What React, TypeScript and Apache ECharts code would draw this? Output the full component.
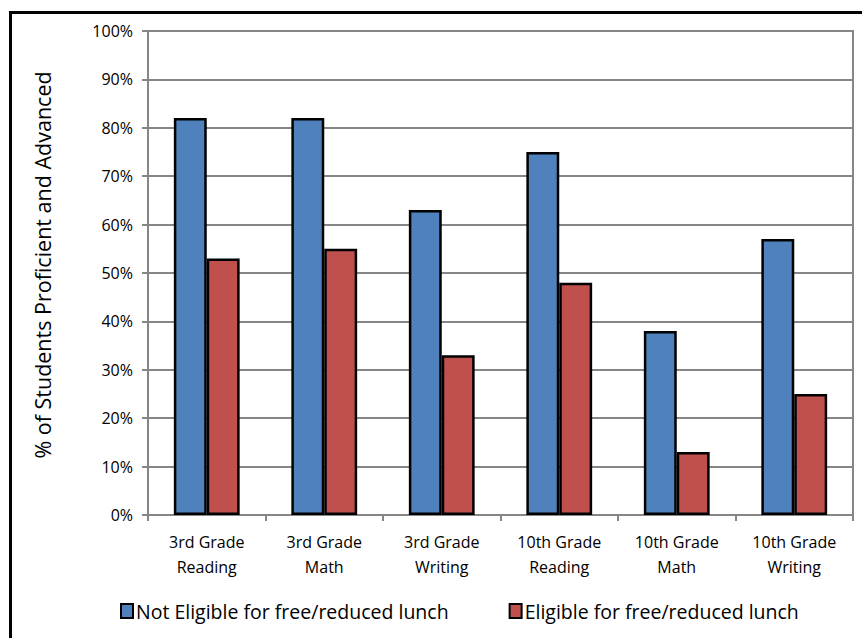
import React, { useEffect, useRef } from "react";
import * as echarts from "echarts";

const categories = [
  "3rd Grade\nReading",
  "3rd Grade\nMath",
  "3rd Grade\nWriting",
  "10th Grade\nReading",
  "10th Grade\nMath",
  "10th Grade\nWriting",
];
const notEligible = [82, 82, 63, 75, 38, 57];
const eligible = [53, 55, 33, 48, 13, 25];
const seriesNames = ["Not Eligible for free/reduced lunch", "Eligible for free/reduced lunch"];
const yTicks = [0, 10, 20, 30, 40, 50, 60, 70, 80, 90, 100];
const yAxisTitle = "% of Students Proficient and Advanced";
const titleText = "Subject Scores by Family Income, 2011";

const FONT = "'Open Sans', 'Noto Sans', sans-serif";
const GRAY = "#868686";

export default function App() {
  const ref = useRef<HTMLDivElement>(null);
  useEffect(() => {
    if (!ref.current) return;
    const chart = echarts.init(ref.current, null, { renderer: "svg" });
    chart.setOption({
      animation: false,
      backgroundColor: "#ffffff",
      textStyle: { fontFamily: FONT },
      graphic: [
        {
          type: "text",
          x: 5,
          y: -4,
          silent: true,
          style: {
            text: titleText,
            font: "bold 28.5px " + FONT,
            fill: "#000",
            verticalAlign: "bottom",
            lineHeight: 28,
          },
        },
        {
          type: "rect",
          shape: { x: 10.5, y: 12.5, width: 900, height: 700 },
          style: { fill: "#fff", stroke: "#000", lineWidth: 3 },
          silent: true,
          z: -10,
        },
      ],
      grid: {
        left: 148,
        top: 31,
        width: 705,
        height: 484,
        show: true,
        borderColor: GRAY,
        borderWidth: 2,
        backgroundColor: "transparent",
      },
      legend: {
        data: seriesNames,
        left: 115,
        top: 596,
        itemGap: 60,
        itemWidth: 12,
        itemHeight: 14,
        icon: "rect",
        textStyle: { fontSize: 19.5, fontFamily: FONT, color: "#000", padding: [0, 0, 0, -2] },
        itemStyle: { borderColor: "#000", borderWidth: 2 },
      },
      xAxis: {
        type: "category",
        data: categories,
        axisLine: { show: true, lineStyle: { color: GRAY, width: 2 } },
        axisTick: { show: true, alignWithLabel: false, length: 6, lineStyle: { color: GRAY, width: 2 } },
        axisLabel: {
          fontSize: 16,
          lineHeight: 25,
          color: "#000",
          margin: 14,
          fontFamily: FONT,
          interval: 0,
        },
      },
      yAxis: {
        type: "value",
        min: yTicks[0],
        max: yTicks[yTicks.length - 1],
        interval: 10,
        name: yAxisTitle,
        nameLocation: "middle",
        nameGap: 95,
        nameTextStyle: { fontSize: 21.5, color: "#000", fontFamily: FONT, padding: [0, 0, 0, 16] },
        axisLine: { show: true, lineStyle: { color: GRAY, width: 2 } },
        axisTick: { show: true, length: 6, lineStyle: { color: GRAY, width: 2 } },
        axisLabel: {
          formatter: (v: number) => v + "%",
          fontSize: 16,
          color: "#000",
          margin: 15,
          fontFamily: FONT,
        },
        splitLine: { show: true, lineStyle: { color: GRAY, width: 2 } },
      },
      series: [
        {
          name: seriesNames[0],
          type: "bar",
          data: notEligible,
          barGap: "0%",
          barCategoryGap: "44%",
          itemStyle: { color: "#4F81BD", borderColor: "#000", borderWidth: 2.5 },
        },
        {
          name: seriesNames[1],
          type: "bar",
          data: eligible,
          itemStyle: { color: "#C0504D", borderColor: "#000", borderWidth: 2.5 },
        },
      ],
    });
    return () => chart.dispose();
  }, []);
  return (
    <div
      ref={ref}
      style={{ position: "fixed", left: 0, top: 0, width: 862, height: 638, background: "#fff" }}
    />
  );
}
